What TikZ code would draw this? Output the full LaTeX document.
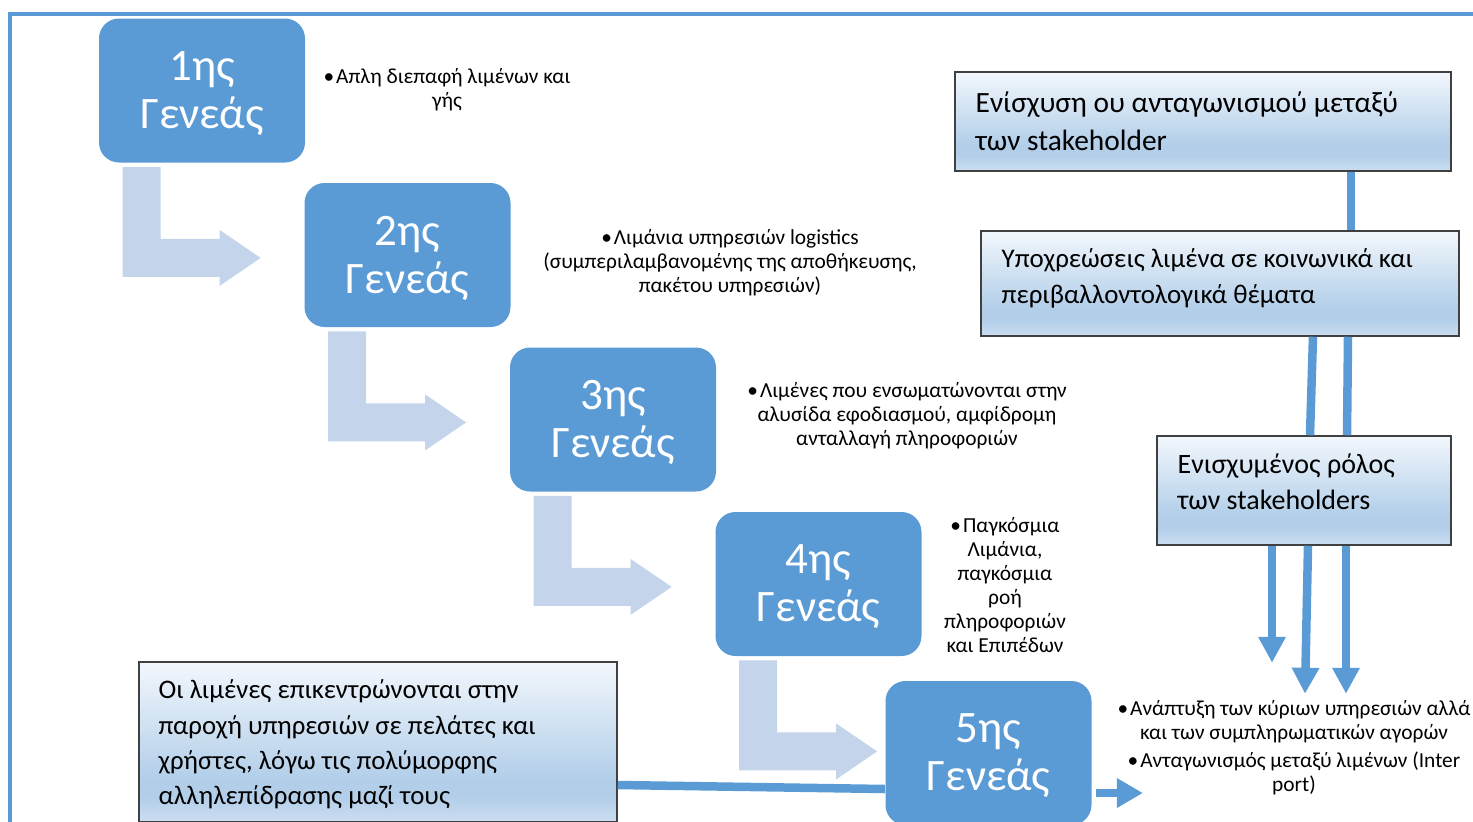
\documentclass[tikz,border=0pt]{standalone}
\usepackage{fontspec}
\setmainfont{Carlito}
\usetikzlibrary{calc,arrows.meta}
\definecolor{acc}{RGB}{91,155,213}
\definecolor{lightarr}{RGB}{196,213,235}
\definecolor{gtop}{RGB}{242,247,252}
\definecolor{gmid}{RGB}{178,206,233}
\definecolor{gbot}{RGB}{204,222,241}
\definecolor{bord}{RGB}{64,64,64}
\pgfdeclareverticalshading{wordgrad}{100bp}{color(0bp)=(gbot); color(25bp)=(gbot); color(33bp)=(gmid); color(38bp)=(gmid); color(75bp)=(gtop); color(100bp)=(gtop)}
\tikzset{
  gen/.style={fill=acc, draw=none, rounded corners=10pt, minimum width=103pt, minimum height=72pt, inner sep=0pt},
  gentext/.style={text=white, font=\fontsize{22.5}{24}\selectfont, align=center, inner sep=0pt},
  gradbox/.style={draw=bord, line width=0.75pt, shading=wordgrad, inner sep=0pt},
  boxtext/.style={anchor=west, align=left, inner sep=0pt},
  bullettext/.style={align=center, font=\fontsize{10.7}{12}\selectfont, inner sep=0pt},
  conn/.style={draw=acc, line width=4.25pt},
  connarr/.style={conn, -{Triangle[width=13pt,length=13pt]}},
  bentarrow/.pic={\fill[lightarr] (24,4) -- (62,4) -- (62,76) -- (121,76) -- (121,67) -- (162,95)
     -- (121,123) -- (121,114) -- (24,114) -- cycle;},
}
\begin{document}
\begin{tikzpicture}[x=0.5pt,y=-0.5pt]
\useasboundingbox (0,0) rectangle (1473,821);
\clip (0,0) rectangle (1473,821);
% frame
\draw[acc, line width=2pt] (10,830) -- (10,14) -- (1480,14);

% generation boxes
\node[gen] (g1) at (202,90.5) {};
\node[gen] (g2) at (407.5,255) {};
\node[gen] (g3) at (613,419.5) {};
\node[gen] (g4) at (818.5,584) {};
\node[gen] (g5) at (988.5,753) {};
\node[gentext] (g1t) at ($(g1.center)+(0,3)$) {1ης\\Γενεάς};
\node[gentext] (g2t) at ($(g2.center)+(0,3)$) {2ης\\Γενεάς};
\node[gentext] (g3t) at ($(g3.center)+(0,3)$) {3ης\\Γενεάς};
\node[gentext] (g4t) at ($(g4.center)+(0,3)$) {4ης\\Γενεάς};
\node[gentext] (g5t) at ($(g5.center)+(0,3)$) {5ης\\Γενεάς};

% bent arrows
\pic at (g1.south west) {bentarrow};
\pic at (g2.south west) {bentarrow};
\pic at (g3.south west) {bentarrow};
\pic at (g4.south west) {bentarrow};

% gradient boxes
\node[gradbox, minimum width=239pt, minimum height=80pt] (BL) at (378,742) {};
\node[gradbox, minimum width=248pt, minimum height=49.5pt] (R1) at (1203,121.5) {};
\node[gradbox, minimum width=239pt, minimum height=52.5pt] (R2) at (1220,283.5) {};
\node[gradbox, minimum width=147pt, minimum height=54.5pt] (R3) at (1304,490.5) {};

\node[boxtext, font=\fontsize{13.4}{17.7}\selectfont] (BLt) at ($(BL.west)+(20,2.5)$)
  {Οι λιμένες επικεντρώνονται στην\\παροχή υπηρεσιών σε πελάτες και\\χρήστες, λόγω τις πολύμορφης\\αλληλεπίδρασης μαζί τους};
\node[boxtext, font=\fontsize{14.7}{19}\selectfont] (R1t) at ($(R1.west)+(21,-0.5)$)
  {Ενίσχυση ου ανταγωνισμού μεταξύ\\των stakeholder};
\node[boxtext, font=\fontsize{13.45}{18}\selectfont] (R2t) at ($(R2.west)+(21,-5)$)
  {Υποχρεώσεις λιμένα σε κοινωνικά και\\περιβαλλοντολογικά θέματα};
\node[boxtext, font=\fontsize{14}{18}\selectfont] (R3t) at ($(R3.west)+(21,-8.5)$)
  {Ενισχυμένος ρόλος\\των stakeholders};

% connectors
\draw[conn] ($(R1.south)+(148,0)$) coordinate (c1) -- (c1 |- R2.north);
\draw[conn] ($(R2.south)+(93,0)$) -- ($(R3.north)+(6,0)$);
\draw[conn] ($(R2.south)+(128,0)$) -- ($(R3.north)+(43,0)$);
\coordinate (d1) at ($(R3.south)+(-32,117)$);
\coordinate (d2) at ($(R3.south)+(1,148)$);
\coordinate (d3) at ($(R3.south)+(42,148)$);
\draw[connarr] ($(R3.south)+(-32,0)$) -- (d1);
\draw[connarr] ($(R3.south)+(4,0)$) -- (d2);
\draw[connarr] ($(R3.south)+(42,0)$) -- (d3);
\draw[conn] ($(BL.east)+(0,43)$) -- ($(g5.west)+(0,36)$);
\coordinate (e1) at ($(g5.east)+(51,40)$);
\draw[conn, -{Triangle[width=14pt,length=13pt]}] ($(g5.east)+(4,40)$) -- (e1);

% bullet texts
\node[bullettext] (t1) at (447,89.5) {•\hspace{1pt}Απλη διεπαφή λιμένων και\\γής};
\node[bullettext] (t2) at (730,262.5) {•\hspace{1pt}Λιμάνια υπηρεσιών logistics\\(συμπεριλαμβανομένης της αποθήκευσης,\\πακέτου υπηρεσιών)};
\node[bullettext] (t3) at (907,415.5) {•\hspace{1pt}Λιμένες που ενσωματώνονται στην\\αλυσίδα εφοδιασμού, αμφίδρομη\\ανταλλαγή πληροφοριών};
\node[bullettext] (t4) at (1005,585.5) {•\hspace{1pt}Παγκόσμια\\Λιμάνια,\\παγκόσμια\\ροή\\πληροφοριών\\και Επιπέδων};
\node[bullettext] (t5) at (1294,747.5) {•\hspace{1pt}Ανάπτυξη των κύριων υπηρεσιών αλλά\\και των συμπληρωματικών αγορών\\[2pt]•\hspace{1pt}Ανταγωνισμός μεταξύ λιμένων (Inter\\port)};
\end{tikzpicture}
\end{document}
